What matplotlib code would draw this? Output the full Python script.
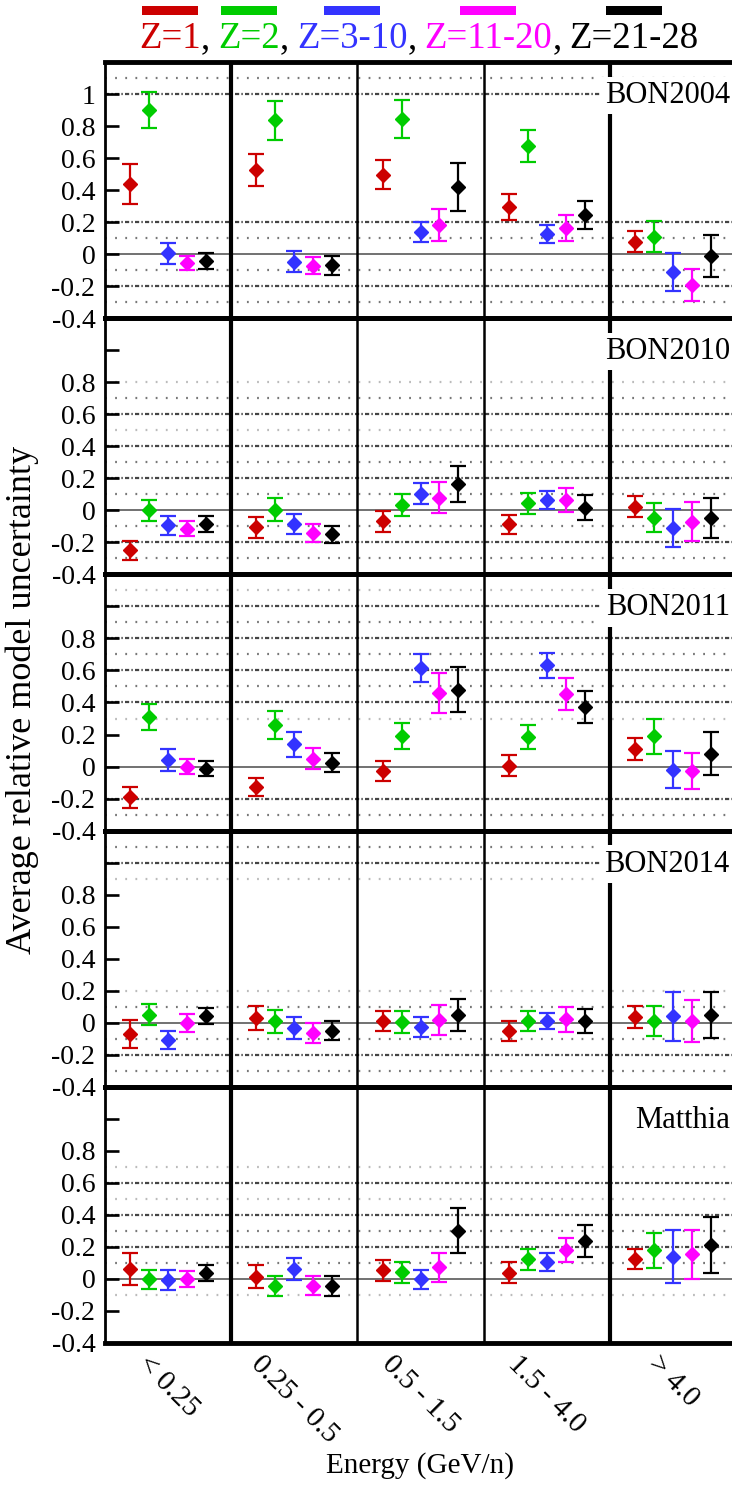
import numpy as np
import matplotlib
matplotlib.use("Agg")
import matplotlib.pyplot as plt
from matplotlib.patches import Rectangle

plt.rcParams['font.family'] = ['Liberation Serif', 'DejaVu Serif']
plt.rcParams['lines.scale_dashes'] = False

# ---------------------------------------------------------------- data
energy_bins = ["< 0.25", "0.25 - 0.5", "0.5 - 1.5", "1.5 - 4.0", "> 4.0"]
groups = ["Z=1", "Z=2", "Z=3-10", "Z=11-20", "Z=21-28"]
group_colors = ["#cc0000", "#00cc00", "#3333ff", "#ff00ff", "#000000"]
models = ["BON2004", "BON2010", "BON2011", "BON2014", "Matthia"]

# mean relative uncertainty, rows = charge groups, columns = energy bins
bon2004_val = [[0.44, 0.525, 0.495, 0.295, 0.077],
               [0.90, 0.835, 0.845, 0.675, 0.11],
               [0.005, -0.047, 0.136, 0.125, -0.11],
               [-0.056, -0.072, 0.18, 0.165, -0.19],
               [-0.042, -0.07, 0.42, 0.245, -0.01]]
bon2004_err = [[0.125, 0.10, 0.09, 0.08, 0.065],
               [0.11, 0.12, 0.12, 0.10, 0.095],
               [0.065, 0.065, 0.062, 0.055, 0.12],
               [0.045, 0.055, 0.10, 0.08, 0.10],
               [0.05, 0.06, 0.15, 0.09, 0.13]]

bon2010_val = [[-0.25, -0.105, -0.068, -0.087, 0.022],
               [0.0, 0.005, 0.032, 0.043, -0.045],
               [-0.094, -0.085, 0.105, 0.065, -0.11],
               [-0.114, -0.142, 0.08, 0.063, -0.07],
               [-0.086, -0.148, 0.165, 0.016, -0.05]]
bon2010_err = [[0.06, 0.065, 0.065, 0.06, 0.065],
               [0.065, 0.07, 0.068, 0.065, 0.09],
               [0.06, 0.062, 0.066, 0.058, 0.12],
               [0.045, 0.057, 0.095, 0.075, 0.12],
               [0.048, 0.053, 0.115, 0.078, 0.125]]

bon2011_val = [[-0.193, -0.128, -0.028, 0.005, 0.11],
               [0.31, 0.258, 0.19, 0.182, 0.19],
               [0.04, 0.138, 0.615, 0.632, -0.02],
               [0.0, 0.048, 0.46, 0.455, -0.028],
               [-0.013, 0.023, 0.48, 0.372, 0.08]]
bon2011_err = [[0.065, 0.057, 0.06, 0.065, 0.07],
               [0.08, 0.087, 0.08, 0.075, 0.11],
               [0.068, 0.078, 0.09, 0.08, 0.115],
               [0.047, 0.065, 0.125, 0.10, 0.11],
               [0.048, 0.06, 0.14, 0.10, 0.135]]

bon2014_val = [[-0.07, 0.027, 0.012, -0.052, 0.036],
               [0.05, 0.008, 0.003, 0.01, 0.01],
               [-0.108, -0.035, -0.025, 0.01, 0.04],
               [-0.002, -0.064, 0.016, 0.021, 0.01],
               [0.04, -0.05, 0.05, 0.01, 0.05]]
bon2014_err = [[0.085, 0.075, 0.063, 0.062, 0.067],
               [0.065, 0.07, 0.07, 0.062, 0.095],
               [0.058, 0.068, 0.062, 0.052, 0.155],
               [0.055, 0.06, 0.093, 0.078, 0.133],
               [0.05, 0.06, 0.10, 0.075, 0.145]]

matthia_val = [[0.06, 0.014, 0.054, 0.04, 0.126],
               [-0.002, -0.042, 0.041, 0.124, 0.18],
               [-0.007, 0.062, -0.003, 0.104, 0.14],
               [-0.002, -0.042, 0.072, 0.183, 0.153],
               [0.036, -0.046, 0.30, 0.24, 0.215]]
matthia_err = [[0.10, 0.07, 0.065, 0.067, 0.064],
               [0.06, 0.062, 0.067, 0.066, 0.11],
               [0.065, 0.066, 0.06, 0.056, 0.165],
               [0.05, 0.058, 0.088, 0.075, 0.153],
               [0.048, 0.062, 0.14, 0.10, 0.175]]

panel_values = [bon2004_val, bon2010_val, bon2011_val, bon2014_val, matthia_val]
panel_errors = [bon2004_err, bon2010_err, bon2011_err, bon2014_err, matthia_err]

# reference levels drawn in each panel
ref_strong = [[1.0, 0.2, -0.2], [0.6, 0.4, 0.2, -0.2],
              [1.0, 0.8, 0.6, 0.4, -0.2], [1.0, -0.2], [0.6, 0.4, 0.2]]
ref_dotted = [[1.1, 0.1, -0.1, -0.3], [0.7, 0.3, 0.1, -0.1, -0.3],
              [0.9, 0.7, 0.5, -0.3], [1.1, 0.1, -0.1, -0.3], [0.3, 0.1]]
ref_faint = [[], [0.8, 0.5], [1.1, 0.3], [0.9, 0.2], [0.7, 0.5, -0.1]]

# ---------------------------------------------------------------- layout
W, H = 732, 1486
fig = plt.figure(figsize=(W / 100, H / 100), dpi=100)

left_px, right_px = 105, 736
top_px, bottom_px = 62, 1343
n_panels = len(models)
ph = (bottom_px - top_px) / n_panels

offsets = np.array([-0.3, -0.15, 0.0, 0.15, 0.3])
xpos = np.arange(len(energy_bins))

axes = []
for i in range(n_panels):
    y_top = top_px + i * ph
    ax = fig.add_axes([left_px / W, 1 - (y_top + ph) / H,
                       (right_px - left_px) / W, ph / H])
    axes.append(ax)
    ax.set_xlim(-0.5, len(energy_bins) - 0.5)
    ax.set_ylim(-0.4, 1.2)

    # reference levels
    for y in ref_strong[i]:
        ax.axhline(y, color='#444444', lw=1.6, ls=(0, (3.0, 1.6, 1.0, 1.6)), zorder=1)
    for y in ref_dotted[i]:
        ax.axhline(y, color='#777777', lw=1.6, ls=(0, (1.3, 6.0)), zorder=1)
    for y in ref_faint[i]:
        ax.axhline(y, color='#bbbbbb', lw=1.6, ls=(0, (1.3, 6.0)), zorder=1)
    ax.axhline(0.0, color='#666666', lw=1.3, zorder=1)

    # energy bin separators
    for xb, lw in zip([0.5, 1.5, 2.5, 3.5], [3.0, 1.8, 1.8, 3.0]):
        ax.axvline(xb, color='black', lw=lw, zorder=2)

    vals = panel_values[i]
    errs = panel_errors[i]
    for g in range(len(groups)):
        ax.errorbar(xpos + offsets[g], vals[g], yerr=errs[g], fmt='none',
                    ecolor=group_colors[g], elinewidth=1.6, capsize=5.5,
                    capthick=1.6, zorder=3)
        ax.plot(xpos + offsets[g], vals[g], ls='none', marker='D',
                markersize=6.8, color=group_colors[g], zorder=4)

    ax.text(0.99, 1 - 19 / ph, models[i], transform=ax.transAxes,
            ha='right', va='top', fontsize=22, zorder=6,
            bbox=dict(facecolor='white', edgecolor='none', pad=3))

    ticks = [1.0, 0.8, 0.6, 0.4, 0.2, 0.0, -0.2, -0.4]
    ax.set_yticks(ticks)
    labels = ['1' if i == 0 else '', '0.8', '0.6', '0.4', '0.2', '0', '-0.2', '-0.4']
    ax.set_yticklabels(labels)
    ax.tick_params(axis='y', direction='in', length=10, width=1.9,
                   labelsize=20, pad=7)
    ax.set_xticks(xpos)
    if i < n_panels - 1:
        ax.set_xticklabels([])
    else:
        ax.set_xticklabels(energy_bins, rotation=-45, ha='center', va='top',
                           fontsize=21)
    ax.tick_params(axis='x', length=0, pad=6)

    ax.spines['top'].set_linewidth(3.5)
    ax.spines['bottom'].set_linewidth(3.5)
    ax.spines['left'].set_linewidth(2.0)
    ax.spines['right'].set_linewidth(3.0)
    ax.set_facecolor('none')

fig.text(22 / W, 1 - 700 / H, "Average relative model uncertainty",
         rotation=90, ha='center', va='center', fontsize=26)
fig.text(420 / W, 1 - 1466 / H, "Energy (GeV/n)", ha='center', va='center',
         fontsize=21)

# ---------------------------------------------------------------- key
renderer = fig.canvas.get_renderer()
x_cur = 139
base_y = 1 - 48 / H
key_texts = []
for g, (name, col) in enumerate(zip(groups, group_colors)):
    t = fig.text(x_cur / W, base_y, name, color=col, fontsize=26.5,
                 ha='left', va='baseline')
    key_texts.append(t)
    bb = t.get_window_extent(renderer)
    x_cur = bb.x1
    if g < len(groups) - 1:
        c = fig.text(x_cur / W, base_y, ",", color='black', fontsize=26.5,
                     ha='left', va='baseline')
        bb = c.get_window_extent(renderer)
        x_cur = bb.x1 + 8

for t, col in zip(key_texts, group_colors):
    bb = t.get_window_extent(renderer)
    cx = 0.5 * (bb.x0 + bb.x1)
    fig.add_artist(Rectangle(((cx - 28) / W, 1 - 15 / H), 56 / W, 9 / H,
                             transform=fig.transFigure, facecolor=col,
                             edgecolor='none'))

fig.savefig("out.png", dpi=100)
